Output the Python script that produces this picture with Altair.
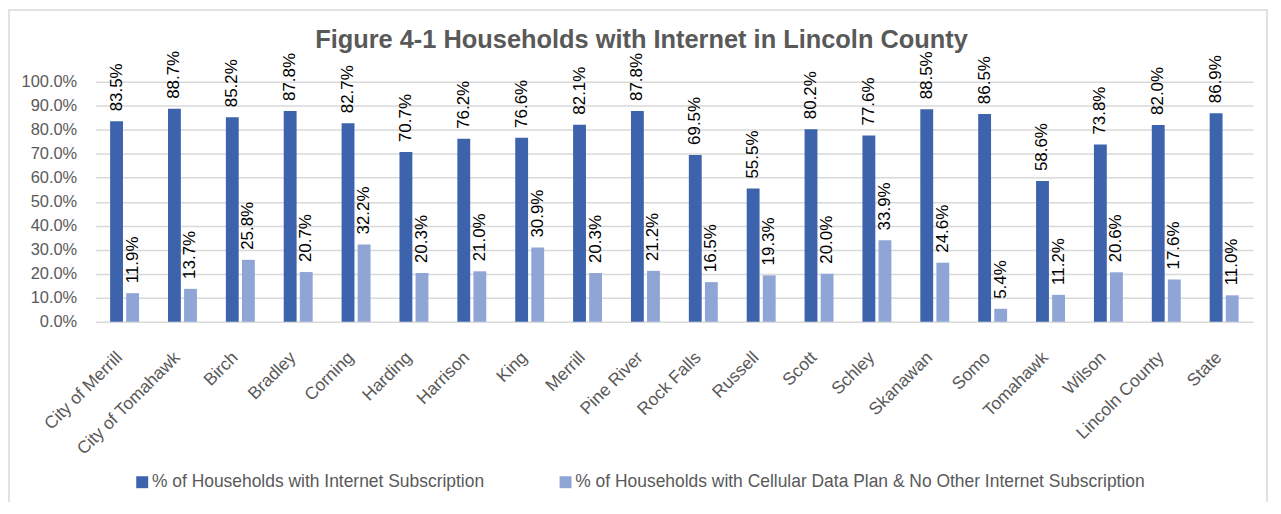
import altair as alt
import pandas as pd

categories = ["City of Merrill", "City of Tomahawk", "Birch", "Bradley", "Corning",
              "Harding", "Harrison", "King", "Merrill", "Pine River", "Rock Falls",
              "Russell", "Scott", "Schley", "Skanawan", "Somo", "Tomahawk", "Wilson",
              "Lincoln County", "State"]
internet = [83.5, 88.7, 85.2, 87.8, 82.7, 70.7, 76.2, 76.6, 82.1, 87.8, 69.5,
            55.5, 80.2, 77.6, 88.5, 86.5, 58.6, 73.8, 82.0, 86.9]
cellular = [11.9, 13.7, 25.8, 20.7, 32.2, 20.3, 21.0, 30.9, 20.3, 21.2, 16.5,
            19.3, 20.0, 33.9, 24.6, 5.4, 11.2, 20.6, 17.6, 11.0]
series = ["% of Households with Internet Subscription",
          "% of Households with Cellular Data Plan & No Other Internet Subscription"]
colors = ["#3D63AD", "#8FA5D6"]
y_ticks = [0.0, 0.1, 0.2, 0.3, 0.4, 0.5, 0.6, 0.7, 0.8, 0.9, 1.0]

rows = []
for i, c in enumerate(categories):
    rows.append({"cat": c, "series": series[0], "value": internet[i] / 100})
    rows.append({"cat": c, "series": series[1], "value": cellular[i] / 100})
df = pd.DataFrame(rows)

FONT = "Liberation Sans"
GRAY = "#595959"

x_enc = alt.X("cat:N", sort=categories, title=None,
              scale=alt.Scale(paddingInner=0.5, paddingOuter=0.25),
              axis=alt.Axis(labelAngle=-45, labelAlign="right", labelBaseline="middle",
                            labelFontSize=17.5, labelColor=GRAY, labelOffset=-5,
                            labelFont=FONT, domain=False, ticks=False, labelPadding=33,
                            labelLimit=300, labelOverlap=False))
xo_enc = alt.XOffset("series:N", sort=series,
                     scale=alt.Scale(paddingInner=0.2, paddingOuter=0))
y_enc = alt.Y("value:Q", title=None,
              scale=alt.Scale(domain=[0, 1], nice=False),
              axis=alt.Axis(values=y_ticks, tickCount=11, format=".1%", labelFontSize=16.5,
                            labelColor=GRAY, labelFont=FONT, domain=False, ticks=False,
                            labelPadding=19, gridColor="#D9D9D9", gridWidth=1.5,
                            labelOverlap=False))

bars = alt.Chart(df).mark_bar().encode(
    x=x_enc, xOffset=xo_enc, y=y_enc,
    color=alt.Color("series:N", sort=series,
                    scale=alt.Scale(domain=series, range=colors),
                    legend=alt.Legend(title=None, orient="none", legendX=38, legendY=393,
                                      direction="horizontal", symbolType="square",
                                      symbolSize=144, symbolStrokeWidth=0,
                                      labelFontSize=17.5, labelColor=GRAY, labelFont=FONT,
                                      columnPadding=72, labelOffset=1, labelLimit=800)),
)

labels = alt.Chart(df).mark_text(angle=270, align="left", baseline="middle", dx=10,
                                 fontSize=17, font=FONT, color="black").encode(
    x=x_enc, xOffset=xo_enc, y=y_enc,
    text=alt.Text("value:Q", format=".1%"),
)

border = alt.Chart(pd.DataFrame({"k": [0]})).mark_rect(
    fill=None, stroke="#D9D9D9", strokeWidth=1.5, clip=False).encode(
    x=alt.value(-87), x2=alt.value(1176), y=alt.value(-72), y2=alt.value(428))

chart = alt.layer(border, bars, labels).properties(
    width=1162, height=241,
    autosize=alt.AutoSizeParams(type="none"),
    padding={"left": 88, "top": 73, "right": 20, "bottom": 180},
    title=alt.TitleParams("Figure 4-1 Households with Internet in Lincoln County",
                          fontSize=25.5, font=FONT, fontWeight="bold", color=GRAY,
                          frame="group", anchor="middle", dx=-33, offset=-44),
).configure_view(stroke=None)

chart.save("out.html", embed_options={"renderer": "svg", "actions": False})
